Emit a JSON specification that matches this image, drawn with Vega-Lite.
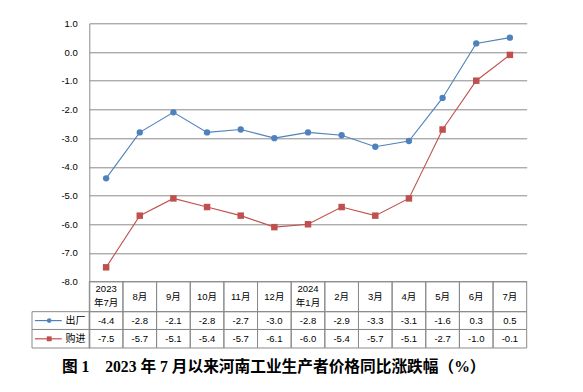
{
  "$schema": "https://vega.github.io/schema/vega-lite/v6.json",
  "width": 437.4,
  "height": 324.7,
  "autosize": {"type": "none"},
  "padding": {"left": 89.3, "top": 23.3, "right": 56.3, "bottom": 44},
  "background": "white",
  "config": {
    "view": {"stroke": null},
    "font": "Liberation Sans, Noto Sans CJK SC",
    "locale": {"number": {"decimal": ".", "thousands": ",", "grouping": [3], "currency": ["", ""], "minus": "-"}},
    "axisY": {"grid": true, "gridColor": "#8a8a8a", "domainColor": "#8a8a8a", "ticks": false, "labelOverlap": false,
              "labelPadding": 12, "labelFontSize": 9.5, "labelColor": "black", "labelFont": "Liberation Sans", "title": null}
  },
  "title": {
    "text": "图 1　2023 年 7 月以来河南工业生产者价格同比涨跌幅（%）",
    "orient": "bottom",
    "anchor": "start",
    "frame": "group",
    "dx": -27.3,
    "offset": 11,
    "font": "Liberation Serif, Noto Sans CJK SC",
    "fontSize": 15.7,
    "fontWeight": "bold",
    "color": "black"
  },
  "datasets": {
    "ppi": [
      {"month": "2023\n年7月", "出厂": -4.4, "购进": -7.5},
      {"month": "8月", "出厂": -2.8, "购进": -5.7},
      {"month": "9月", "出厂": -2.1, "购进": -5.1},
      {"month": "10月", "出厂": -2.8, "购进": -5.4},
      {"month": "11月", "出厂": -2.7, "购进": -5.7},
      {"month": "12月", "出厂": -3.0, "购进": -6.1},
      {"month": "2024\n年1月", "出厂": -2.8, "购进": -6.0},
      {"month": "2月", "出厂": -2.9, "购进": -5.4},
      {"month": "3月", "出厂": -3.3, "购进": -5.7},
      {"month": "4月", "出厂": -3.1, "购进": -5.1},
      {"month": "5月", "出厂": -1.6, "购进": -2.7},
      {"month": "6月", "出厂": 0.3, "购进": -1.0},
      {"month": "7月", "出厂": 0.5, "购进": -0.1}
    ]
  },
  "layer": [
    {
      "data": {"name": "ppi"},
      "layer": [
        {
          "transform": [{"fold": ["出厂", "购进"], "as": ["series", "value"]}],
          "mark": {"type": "line", "strokeWidth": 1.1},
          "encoding": {
            "x": {"field": "month", "type": "nominal", "sort": null,
                  "scale": {"type": "band", "paddingInner": 0, "paddingOuter": 0,
                            "domain": ["2023\n年7月", "8月", "9月", "10月", "11月", "12月", "2024\n年1月", "2月", "3月", "4月", "5月", "6月", "7月"]},
                  "axis": null},
            "y": {"field": "value", "type": "quantitative",
                  "scale": {"domain": [-10.31, 1], "nice": false, "zero": false},
                  "axis": {"values": [1, 0, -1, -2, -3, -4, -5, -6, -7, -8], "format": ".1f"}},
            "color": {"field": "series", "type": "nominal",
                      "scale": {"domain": ["出厂", "购进"], "range": ["#4F81BD", "#C0504D"]}, "legend": null}
          }
        },
        {
          "transform": [{"fold": ["出厂", "购进"], "as": ["series", "value"]}],
          "mark": {"type": "point", "filled": true, "opacity": 1},
          "encoding": {
            "x": {"field": "month", "type": "nominal", "sort": null},
            "y": {"field": "value", "type": "quantitative", "axis": {"values": [1, 0, -1, -2, -3, -4, -5, -6, -7, -8], "format": ".1f"}},
            "color": {"field": "series", "type": "nominal"},
            "shape": {"field": "series", "type": "nominal",
                      "scale": {"domain": ["出厂", "购进"], "range": ["circle", "square"]}, "legend": null},
            "size": {"field": "series", "type": "nominal",
                     "scale": {"domain": ["出厂", "购进"], "range": [40, 42]}, "legend": null}
          }
        },
        {
          "mark": {"type": "rect", "filled": false, "color": "#8a8a8a", "strokeWidth": 1},
          "encoding": {
            "x": {"field": "month", "type": "nominal", "sort": null},
            "y": {"datum": -8, "type": "quantitative", "axis": {"values": [1, 0, -1, -2, -3, -4, -5, -6, -7, -8], "format": ".1f"}},
            "y2": {"datum": -9.045}
          }
        },
        {
          "mark": {"type": "rect", "filled": false, "color": "#8a8a8a", "strokeWidth": 1},
          "encoding": {
            "x": {"field": "month", "type": "nominal", "sort": null},
            "y": {"datum": -9.045, "type": "quantitative", "axis": {"values": [1, 0, -1, -2, -3, -4, -5, -6, -7, -8], "format": ".1f"}},
            "y2": {"datum": -9.665}
          }
        },
        {
          "mark": {"type": "rect", "filled": false, "color": "#8a8a8a", "strokeWidth": 1},
          "encoding": {
            "x": {"field": "month", "type": "nominal", "sort": null},
            "y": {"datum": -9.665, "type": "quantitative", "axis": {"values": [1, 0, -1, -2, -3, -4, -5, -6, -7, -8], "format": ".1f"}},
            "y2": {"datum": -10.31}
          }
        },
        {
          "transform": [{"filter": {"not": {"field": "month", "oneOf": ["2023\n年7月", "2024\n年1月"]}}}],
          "mark": {"type": "text", "fontSize": 9.5, "baseline": "middle", "color": "black"},
          "encoding": {
            "x": {"field": "month", "type": "nominal", "sort": null},
            "y": {"datum": -8.533, "type": "quantitative", "axis": {"values": [1, 0, -1, -2, -3, -4, -5, -6, -7, -8], "format": ".1f"}},
            "text": {"field": "month", "type": "nominal"}
          }
        },
        {
          "transform": [{"filter": {"field": "month", "oneOf": ["2023\n年7月", "2024\n年1月"]}}],
          "mark": {"type": "text", "fontSize": 9.5, "lineBreak": "\n", "lineHeight": 14, "baseline": "middle", "color": "black"},
          "encoding": {
            "x": {"field": "month", "type": "nominal", "sort": null},
            "y": {"datum": -8.272, "type": "quantitative", "axis": {"values": [1, 0, -1, -2, -3, -4, -5, -6, -7, -8], "format": ".1f"}},
            "text": {"field": "month", "type": "nominal"}
          }
        },
        {
          "mark": {"type": "text", "fontSize": 9.5, "baseline": "middle", "color": "black"},
          "encoding": {
            "x": {"field": "month", "type": "nominal", "sort": null},
            "y": {"datum": -9.355, "type": "quantitative", "axis": {"values": [1, 0, -1, -2, -3, -4, -5, -6, -7, -8], "format": ".1f"}},
            "text": {"field": "出厂", "type": "quantitative", "format": ".1f"}
          }
        },
        {
          "mark": {"type": "text", "fontSize": 9.5, "baseline": "middle", "color": "black"},
          "encoding": {
            "x": {"field": "month", "type": "nominal", "sort": null},
            "y": {"datum": -9.99, "type": "quantitative", "axis": {"values": [1, 0, -1, -2, -3, -4, -5, -6, -7, -8], "format": ".1f"}},
            "text": {"field": "购进", "type": "quantitative", "format": ".1f"}
          }
        }
      ]
    },
    {
      "data": {"values": [{"series": "出厂"}]},
      "layer": [
        {
          "mark": {"type": "rect", "filled": false, "color": "#8a8a8a", "strokeWidth": 1},
          "encoding": {
            "x": {"datum": 0, "type": "quantitative", "scale": {"domain": [0, 1], "range": [-57.3, 0]}, "axis": null},
            "x2": {"datum": 1},
            "y": {"datum": -9.045, "type": "quantitative", "axis": {"values": [1, 0, -1, -2, -3, -4, -5, -6, -7, -8], "format": ".1f"}},
            "y2": {"datum": -9.665}
          }
        },
        {
          "mark": {"type": "rule", "color": "#4F81BD", "strokeWidth": 1.2},
          "encoding": {
            "x": {"datum": 0.05, "type": "quantitative"},
            "x2": {"datum": 0.52},
            "y": {"datum": -9.355, "type": "quantitative", "axis": {"values": [1, 0, -1, -2, -3, -4, -5, -6, -7, -8], "format": ".1f"}}
          }
        },
        {
          "mark": {"type": "point", "shape": "circle", "filled": true, "color": "#4F81BD", "opacity": 1, "size": 22},
          "encoding": {
            "x": {"datum": 0.3, "type": "quantitative"},
            "y": {"datum": -9.355, "type": "quantitative", "axis": {"values": [1, 0, -1, -2, -3, -4, -5, -6, -7, -8], "format": ".1f"}}
          }
        },
        {
          "mark": {"type": "text", "fontSize": 10, "baseline": "middle", "color": "black"},
          "encoding": {
            "x": {"datum": 0.76, "type": "quantitative"},
            "y": {"datum": -9.355, "type": "quantitative", "axis": {"values": [1, 0, -1, -2, -3, -4, -5, -6, -7, -8], "format": ".1f"}},
            "text": {"field": "series", "type": "nominal"}
          }
        }
      ]
    },
    {
      "data": {"values": [{"series": "购进"}]},
      "layer": [
        {
          "mark": {"type": "rect", "filled": false, "color": "#8a8a8a", "strokeWidth": 1},
          "encoding": {
            "x": {"datum": 0, "type": "quantitative", "scale": {"domain": [0, 1], "range": [-57.3, 0]}, "axis": null},
            "x2": {"datum": 1},
            "y": {"datum": -9.665, "type": "quantitative", "axis": {"values": [1, 0, -1, -2, -3, -4, -5, -6, -7, -8], "format": ".1f"}},
            "y2": {"datum": -10.31}
          }
        },
        {
          "mark": {"type": "rule", "color": "#C0504D", "strokeWidth": 1.2},
          "encoding": {
            "x": {"datum": 0.05, "type": "quantitative"},
            "x2": {"datum": 0.52},
            "y": {"datum": -9.99, "type": "quantitative", "axis": {"values": [1, 0, -1, -2, -3, -4, -5, -6, -7, -8], "format": ".1f"}}
          }
        },
        {
          "mark": {"type": "point", "shape": "square", "filled": true, "color": "#C0504D", "opacity": 1, "size": 24},
          "encoding": {
            "x": {"datum": 0.3, "type": "quantitative"},
            "y": {"datum": -9.99, "type": "quantitative", "axis": {"values": [1, 0, -1, -2, -3, -4, -5, -6, -7, -8], "format": ".1f"}}
          }
        },
        {
          "mark": {"type": "text", "fontSize": 10, "baseline": "middle", "color": "black"},
          "encoding": {
            "x": {"datum": 0.76, "type": "quantitative"},
            "y": {"datum": -9.99, "type": "quantitative", "axis": {"values": [1, 0, -1, -2, -3, -4, -5, -6, -7, -8], "format": ".1f"}},
            "text": {"field": "series", "type": "nominal"}
          }
        }
      ]
    }
  ],
  "resolve": {"scale": {"x": "independent"}}
}
